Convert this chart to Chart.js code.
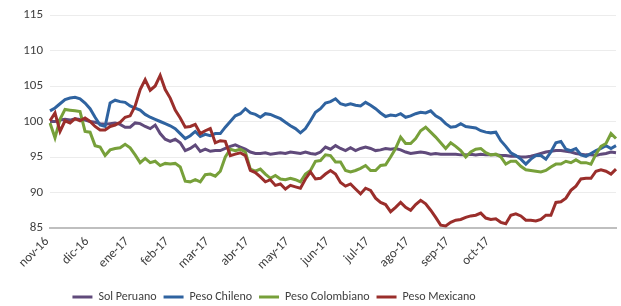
<!DOCTYPE html>
<html>
<head>
<meta charset="utf-8">
<script src="https://cdn.jsdelivr.net/npm/chart.js@4.4.0/dist/chart.umd.min.js"></script>
<style>
  html, body { margin: 0; padding: 0; background: #fff; }
  #wrap { width: 621px; height: 306px; }
</style>
</head>
<body>
<div id="wrap"><canvas id="fxChart" width="621" height="306"></canvas></div>
<script>
// month labels, one every 8 points
var months = ["nov-16", "dic-16", "ene-17", "feb-17", "mar-17", "abr-17", "may-17", "jun-17", "jul-17", "ago-17", "sep-17", "oct-17"];
var pointsPerMonth = 8;

var solPeruano = [
    100.0, 100.0, 100.2, 100.3, 100.2, 100.4, 100.3, 100.2, 100.0, 99.9, 99.7, 99.6, 99.7, 99.8, 99.6, 99.2, 99.2, 99.8, 99.7, 99.3, 99.0, 99.5, 98.3, 97.5, 97.2, 97.5, 97.0, 95.9,
    96.2, 96.7, 95.8, 96.1, 95.8, 95.9, 95.9, 96.2, 96.5, 96.7, 96.4, 96.1, 95.7, 95.5, 95.5, 95.6, 95.4, 95.5, 95.6, 95.5, 95.7, 95.6, 95.5, 95.7, 95.5, 95.4, 95.7, 96.4,
    96.1, 96.6, 96.2, 95.9, 96.3, 95.9, 96.2, 96.4, 96.2, 95.9, 96.0, 96.2, 96.1, 96.2, 96.0, 95.7, 95.5, 95.6, 95.7, 95.6, 95.4, 95.5, 95.4, 95.4, 95.4, 95.4, 95.3, 95.3,
    95.4, 95.3, 95.4, 95.3, 95.3, 95.3, 95.2, 95.2, 95.1, 95.1, 95.0, 95.0, 95.1, 95.3, 95.5, 95.7, 95.8, 95.9, 95.9, 95.8, 95.7, 95.5, 95.4, 95.3, 95.3, 95.2, 95.4, 95.5, 95.7, 95.6
];
var pesoChileno = [
    101.5, 101.9, 102.5, 103.1, 103.3, 103.4, 103.2, 102.6, 101.8, 100.6, 99.5, 99.3, 102.6, 103.0, 102.8, 102.7, 102.2, 101.9, 101.6, 101.0, 100.6, 100.3, 100.0, 99.7, 99.4, 99.0, 98.3, 97.6,
    98.0, 98.6, 97.9, 98.2, 98.0, 98.3, 98.3, 99.2, 100.0, 100.8, 101.1, 101.8, 101.2, 101.0, 100.6, 101.1, 101.0, 100.7, 100.4, 99.9, 99.4, 99.0, 98.4, 99.0, 100.1, 101.3, 101.8, 102.6,
    102.8, 103.2, 102.5, 102.3, 102.5, 102.3, 102.2, 102.7, 102.3, 101.8, 101.2, 100.7, 100.9, 100.8, 101.1, 100.6, 100.8, 101.1, 101.3, 101.2, 101.5, 100.8, 100.4, 99.7, 99.2, 99.3, 99.7, 99.3,
    99.2, 99.1, 98.7, 98.5, 98.4, 98.5, 97.3, 96.5, 95.6, 95.2, 94.7, 94.0, 94.7, 95.2, 95.2, 94.7, 95.7, 97.0, 97.2, 96.1, 95.9, 96.2, 95.3, 95.1, 95.5, 95.9, 96.2, 96.6, 96.2, 96.6
];
var pesoColombiano = [
    99.8, 97.7, 100.3, 101.7, 101.6, 101.5, 101.4, 98.6, 98.5, 96.6, 96.4, 95.2, 96.0, 96.2, 96.3, 96.8, 96.3, 95.3, 94.2, 94.8, 94.2, 94.4, 93.8, 94.1, 94.0, 94.1, 93.6, 91.6,
    91.5, 91.8, 91.5, 92.5, 92.6, 92.3, 93.0, 95.0, 96.1, 95.9, 96.1, 95.7, 93.3, 93.0, 93.3, 92.6, 92.0, 92.4, 91.9, 91.8, 92.0, 91.8, 91.5, 92.6, 93.1, 94.4, 94.5, 95.3,
    95.2, 94.3, 94.3, 93.1, 92.9, 93.1, 93.4, 93.8, 93.1, 93.1, 93.8, 93.9, 95.0, 96.2, 97.8, 96.9, 96.9, 97.6, 98.7, 99.2, 98.5, 97.8, 97.0, 96.2, 97.0, 96.5, 95.9, 95.0,
    95.7, 96.1, 96.2, 95.6, 95.3, 95.4, 95.0, 94.0, 94.4, 94.4, 93.7, 93.2, 93.1, 93.0, 92.9, 93.1, 93.6, 94.0, 94.0, 94.4, 94.2, 94.6, 94.2, 94.2, 94.0, 95.4, 96.5, 96.9, 98.3, 97.6
];
var pesoMexicano = [
    100.1, 101.2, 98.6, 100.1, 99.8, 100.4, 100.1, 100.5, 100.0, 99.3, 98.8, 98.8, 99.3, 99.5, 99.9, 100.6, 100.8, 102.2, 104.5, 105.9, 104.4, 105.0, 106.5, 104.5, 103.3, 101.6, 100.5, 99.2,
    99.3, 99.6, 98.3, 98.7, 99.0, 97.0, 97.3, 97.2, 95.2, 95.4, 95.6, 95.2, 93.1, 92.8, 92.2, 91.5, 91.8, 91.0, 91.2, 90.5, 91.0, 90.8, 90.6, 91.9, 92.9, 91.9, 92.0, 92.6,
    93.1, 92.6, 91.4, 90.9, 91.2, 90.5, 89.8, 90.6, 90.3, 89.2, 88.6, 88.3, 87.3, 87.9, 88.6, 87.9, 87.5, 88.3, 88.9, 88.4, 87.5, 86.5, 85.4, 85.3, 85.8, 86.1, 86.2, 86.5,
    86.7, 86.8, 87.1, 86.4, 86.2, 86.3, 85.8, 85.6, 86.8, 87.0, 86.7, 86.1, 86.1, 86.0, 86.2, 86.8, 86.8, 88.6, 88.7, 89.2, 90.3, 90.9, 91.9, 92.0, 92.0, 93.0, 93.2, 93.0, 92.6, 93.3
];

var labels = solPeruano.map(function (v, i) {
    return i % pointsPerMonth === 0 && months[i / pointsPerMonth] ? months[i / pointsPerMonth] : "";
});

Chart.defaults.font.family = "Carlito, Lato, 'Liberation Sans', sans-serif";
Chart.defaults.color = "#404040";

function serie(label, data, color, order) {
    return {
        label: label,
        data: data,
        borderColor: color,
        backgroundColor: color,
        borderWidth: 3,
        pointRadius: 0,
        tension: 0,
        fill: false,
        order: order
    };
}

// legend sits a bit left of centre, like in the original
var legendShift = {
    id: 'legendShift',
    afterLayout: function (chart) {
        chart.legend.right -= 68;
    }
};

var ctx = document.getElementById("fxChart").getContext("2d");
var fxChart = new Chart(ctx, {
    type: 'line',
    data: {
        labels: labels,
        datasets: [
            serie("Sol Peruano", solPeruano, "#604a7b", 4),
            serie("Peso Chileno", pesoChileno, "#2f63a0", 3),
            serie("Peso Colombiano", pesoColombiano, "#77a03a", 2),
            serie("Peso Mexicano", pesoMexicano, "#9a2e2b", 1)
        ]
    },
    plugins: [legendShift],
    options: {
        responsive: false,
        animation: false,
        layout: { padding: { top: 15, right: 5, left: 0, bottom: -7 } },
        plugins: {
            tooltip: { enabled: false },
            legend: {
                position: 'bottom',
                labels: {
                    usePointStyle: true,
                    pointStyle: 'line',
                    pointStyleWidth: 20,
                    boxHeight: 12,
                    padding: 7,
                    font: { size: 12 },
                    color: "#404040",
                    sort: function (a, b) { return a.datasetIndex - b.datasetIndex; }
                }
            }
        },
        scales: {
            x: {
                grid: { display: false, drawTicks: false },
                border: { display: true, color: "#bfbfbf", width: 2 },
                ticks: {
                    autoSkip: false,
                    maxRotation: 45,
                    minRotation: 45,
                    padding: 6,
                    labelOffset: -3,
                    font: { size: 13 }
                },
                afterFit: function (scale) {
                    scale.height = 56;
                    scale.paddingLeft = 0;
                    scale.paddingRight = 0;
                }
            },
            y: {
                min: 85,
                max: 115,
                grid: { color: "#ececec", drawTicks: false },
                border: { display: false },
                ticks: { stepSize: 5, padding: 7, font: { size: 13 } },
                afterFit: function (scale) { scale.width = 50; }
            }
        }
    }
});
</script>
</body>
</html>
